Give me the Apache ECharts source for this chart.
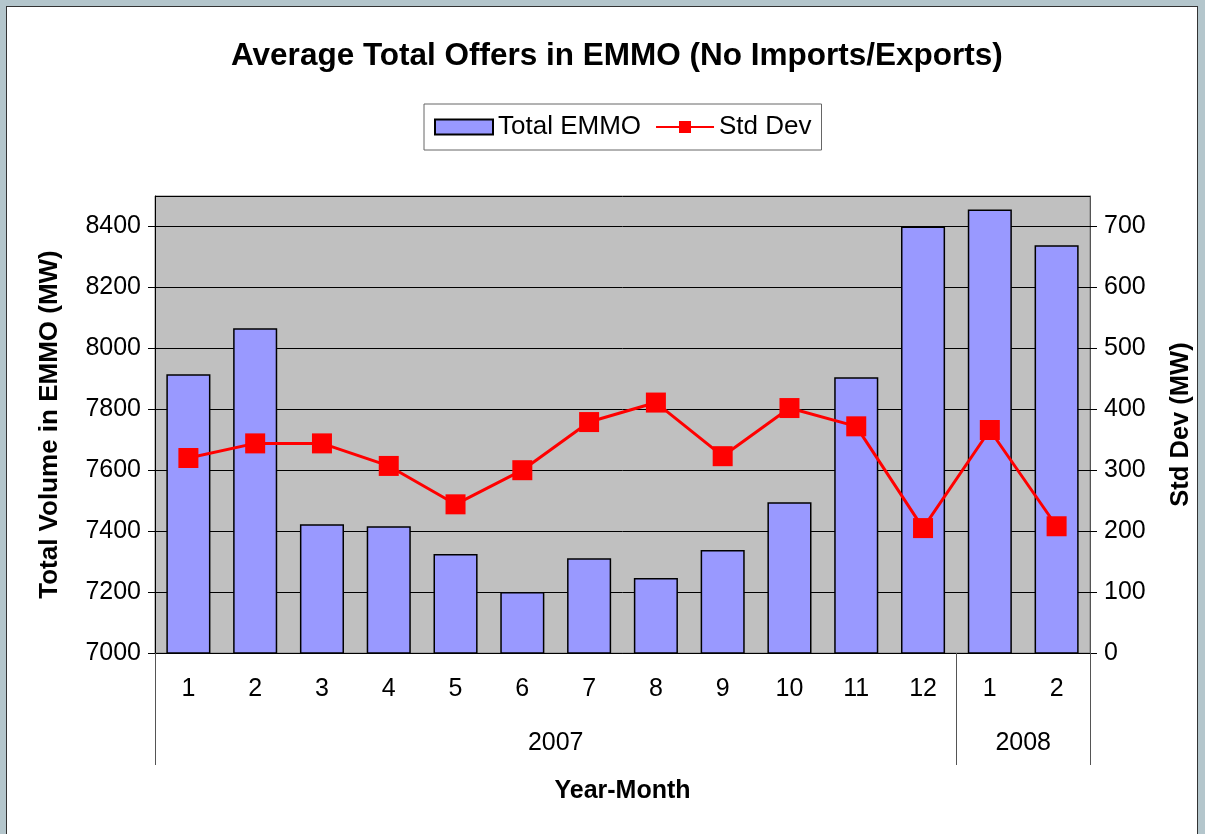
<!DOCTYPE html>
<html>
<head>
<meta charset="utf-8">
<script src="https://cdn.jsdelivr.net/npm/echarts@6/dist/echarts.min.js"></script>
<style>
  html, body { margin: 0; padding: 0; }
  body { width: 1205px; height: 834px; background: #b4c6cc; overflow: hidden; position: relative; }
  .frame { position: absolute; left: 6px; top: 6px; width: 1190px; height: 840px; background: #fff; border: 1px solid #333; }
  #chart { position: absolute; left: -7px; top: -7px; width: 1205px; height: 834px; }
</style>
</head>
<body>
<div class="frame"><div id="chart"></div></div>
<script>
// month categories and year groups
var months = ['1', '2', '3', '4', '5', '6', '7', '8', '9', '10', '11', '12', '1', '2']
var yearLabels = ['2007', '2008']
var yearCenters = [6, 13] // centre of each year group, in months
var yearBounds = [0, 12, 14]
// series values
var totalEmmo = [7915, 8066, 7423, 7416, 7325, 7200, 7311, 7246, 7338, 7495, 7905, 8400, 8456, 8338]
var stdDev = [320, 344, 344, 307, 244, 300, 379, 411, 323, 402, 372, 205, 366, 208]

var font = 'Liberation Sans, Arial, sans-serif'
var myChart = echarts.init(document.getElementById('chart'))

var option = {
  animation: false,
  textStyle: { fontFamily: font },
  title: {
    text: 'Average Total Offers in EMMO (No Imports/Exports)',
    left: 226,
    top: 35,
    textStyle: { fontSize: 31.5, fontWeight: 'bold', color: '#000', fontFamily: font }
  },
  legend: {
    top: 104,
    left: 424,
    padding: [10, 10, 10, 10],
    itemGap: 14,
    itemWidth: 58,
    itemHeight: 15,
    borderColor: '#666',
    borderWidth: 1,
    textStyle: { fontSize: 26, color: '#000', fontFamily: font },
    data: [{ name: 'Total EMMO', icon: 'rect' }, { name: 'Std Dev' }]
  },
  grid: {
    left: 155,
    right: 115,
    top: 196,
    bottom: 181,
    show: true,
    backgroundColor: '#c0c0c0',
    borderColor: '#808080',
    borderWidth: 1
  },
  xAxis: [
    {
      type: 'category',
      data: months,
      axisLine: { lineStyle: { color: '#000', width: 1 } },
      axisTick: { interval: 0, length: 57, lineStyle: { color: '#555' } },
      axisLabel: { interval: 0, margin: 24, fontSize: 25, color: '#000' }
    },
    {
      type: 'value',
      position: 'bottom',
      min: 0,
      max: 14,
      interval: 1,
      axisLine: { show: false },
      splitLine: { show: false },
      axisTick: { customValues: yearBounds, length: 112, lineStyle: { color: '#555' } },
      axisLabel: {
        customValues: yearCenters,
        margin: 78,
        fontSize: 25,
        color: '#000',
        formatter: function (v) { return yearLabels[yearCenters.indexOf(v)] }
      },
      name: 'Year-Month',
      nameLocation: 'middle',
      nameGap: 126,
      nameTextStyle: { fontSize: 25, fontWeight: 'bold', color: '#000' }
    }
  ],
  yAxis: [
    {
      type: 'value',
      min: 7000,
      max: 8500,
      interval: 200,
      name: 'Total Volume in EMMO (MW)',
      nameLocation: 'middle',
      nameGap: 92,
      nameTextStyle: { fontSize: 26, fontWeight: 'bold', color: '#000' },
      axisLine: { show: true, lineStyle: { color: '#000' } },
      axisTick: { show: true, length: 7, lineStyle: { color: '#000' } },
      axisLabel: { fontSize: 25, color: '#000', margin: 14, showMaxLabel: false, formatter: function (v) { return String(v) } },
      splitLine: { lineStyle: { color: '#000', width: 1 } }
    },
    {
      type: 'value',
      min: 0,
      max: 750,
      interval: 100,
      name: 'Std Dev (MW)',
      nameLocation: 'middle',
      nameGap: 78,
      nameRotate: 90,
      nameTextStyle: { fontSize: 25.5, fontWeight: 'bold', color: '#000' },
      axisLine: { show: true, lineStyle: { color: '#555' } },
      axisTick: { show: true, length: 7, lineStyle: { color: '#000' } },
      axisLabel: { fontSize: 25, color: '#000', margin: 14, showMaxLabel: false },
      splitLine: { show: false }
    }
  ],
  series: [
    {
      name: 'Total EMMO',
      type: 'bar',
      xAxisIndex: 0,
      yAxisIndex: 0,
      barCategoryGap: '34%',
      data: totalEmmo,
      itemStyle: { color: '#9999ff', borderColor: '#000', borderWidth: 1.5 }
    },
    {
      name: 'Std Dev',
      type: 'line',
      xAxisIndex: 0,
      yAxisIndex: 1,
      data: stdDev,
      symbol: 'rect',
      symbolSize: 20,
      lineStyle: { color: '#ff0000', width: 3 },
      itemStyle: { color: '#ff0000' }
    }
  ]
}
myChart.setOption(option)
</script>
</body>
</html>
